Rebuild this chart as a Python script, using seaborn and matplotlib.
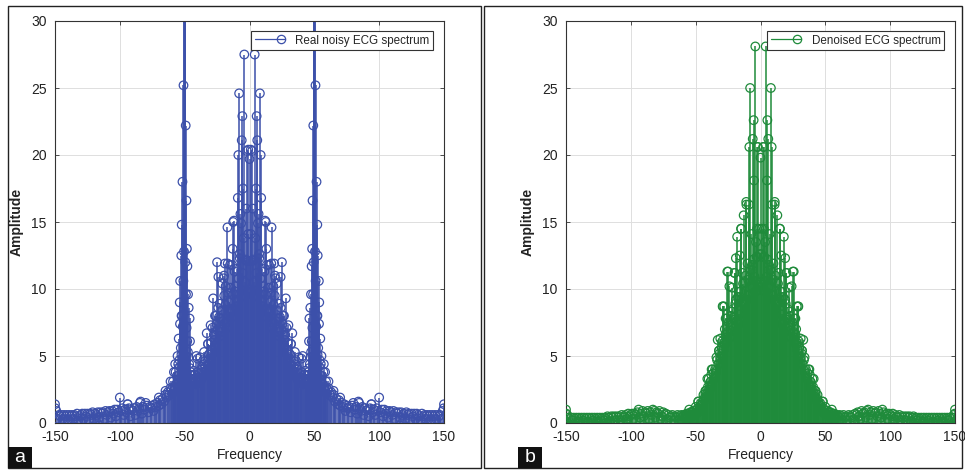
import numpy as np
import pandas as pd
import matplotlib
matplotlib.use("Agg")
import matplotlib.pyplot as plt
from matplotlib.patches import Rectangle
from matplotlib.lines import Line2D
from matplotlib.legend_handler import HandlerBase
import seaborn as sns

# ---------------- data ----------------
freq_half = list(range(0, 151))            # 0 .. 150 Hz, 1 Hz bins (spectrum is symmetric)
freq_mid = [f + 0.5 for f in range(0, 60)]  # in-between bins 0.5 .. 59.5 Hz

noisy_half = [19.7, 14.1, 20.3, 12.2, 27.5, 17.5, 21.1, 15.6, 24.6, 16.8,
              11.5, 10.2, 15.1, 13.0, 8.5, 11.8, 9.0, 14.6, 7.5, 11.9,
              10.8, 10.4, 6.8, 8.9, 10.9, 12.0, 8.0, 6.2, 9.3, 5.5,
              7.3, 4.8, 5.9, 6.7, 4.2, 4.4, 3.6, 4.0, 4.9, 3.2,
              3.8, 5.0, 3.3, 3.9, 2.9, 3.6, 4.1, 4.9, 6.1, 9.6,
              45.0, 10.6, 8.0, 5.6, 4.7, 4.4, 3.5, 3.8, 2.7, 3.1,
              2.5, 2.6, 2.1, 2.3, 1.9, 2.1, 1.6, 1.8, 1.4, 1.7,
              1.3, 1.5, 1.2, 1.4, 0.9, 1.3, 1.1, 1.2, 0.8, 1.3,
              1.5, 1.0, 1.2, 0.7, 1.6, 1.1, 0.9, 1.2, 0.6, 1.1,
              0.9, 1.0, 0.5, 1.1, 1.4, 0.8, 1.0, 0.6, 1.1, 0.9,
              1.9, 0.8, 1.0, 0.5, 1.0, 0.7, 0.9, 0.4, 0.9, 0.8,
              0.6, 0.9, 0.3, 0.8, 0.7, 0.8, 0.4, 0.8, 0.6, 0.7,
              0.3, 0.8, 0.6, 0.7, 0.2, 0.7, 0.5, 0.7, 0.3, 0.7,
              0.6, 0.5, 0.2, 0.7, 0.5, 0.6, 0.3, 0.6, 0.5, 0.6,
              0.2, 0.6, 0.5, 0.6, 0.3, 0.6, 0.5, 0.6, 0.3, 0.9,
              1.4]

noisy_mid = [12.1, 9.8, 16.0, 10.5, 13.8, 11.2, 9.4, 12.3, 10.8, 9.1,
             8.7, 11.3, 9.6, 7.9, 10.1, 8.3, 9.7, 7.1, 8.8, 9.5,
             7.6, 8.4, 6.5, 7.9, 6.9, 7.4, 5.8, 6.6, 5.2, 6.0,
             4.5, 5.1, 4.3, 3.9, 4.6, 3.5, 4.2, 3.3, 3.7, 3.0,
             3.4, 2.9, 3.6, 3.1, 3.3, 3.8, 4.4, 5.3, 7.1, 12.0,
             12.8, 7.2, 5.1, 4.2, 3.6, 3.2, 2.9, 2.6, 2.4, 2.2]

noisy_extra_freq = [1.0, 2.6, 5.5, 6.5, 8.6, 12.6, 13.4, 16.8, 19.6, 26.6, 32.0, 35.0, 40.0,
                    3.4, 7.4, 10.6, 14.6, 18.4, 22.5, 24.1, 28.6, 30.5, 37.5, 43.5,
                    48.6, 50.9, 49.2, 51.7, 48.3, 52.3, 52.6, 47.9, 53.5, 47.4, 53.8, 46.9,
                    52.4, 46.2, 53.6, 45.9, 54.6, 55.5, 57.3, 58.3, 60.9, 64.8, 69.9,
                    84.5, 94.0, 149.8, 49.4, 49.7, 50.3, 50.6]
noisy_extra_amp = [20.4, 12.1, 22.9, 14.9, 20.0, 15.0, 11.8, 11.9, 11.0, 8.0, 5.9, 5.3, 4.8,
                   9.5, 12.6, 9.8, 8.2, 10.2, 7.8, 8.6, 7.1, 5.2, 3.2, 3.1,
                   16.6, 25.2, 22.2, 18.0, 13.0, 14.8, 12.5, 11.7, 10.6, 9.6, 9.0, 8.6,
                   8.0, 7.8, 7.4, 6.1, 6.3, 5.0, 4.4, 3.8, 3.1, 2.4, 1.9,
                   1.5, 1.4, 1.1, 38.0, 42.0, 42.0, 38.0]

den_half = [19.8, 14.5, 20.6, 12.4, 28.1, 18.1, 21.2, 14.1, 25.0, 16.3,
            11.9, 16.5, 10.5, 15.5, 11.2, 14.5, 12.5, 9.8, 13.9, 12.3,
            11.2, 8.5, 10.1, 6.9, 10.2, 11.3, 7.8, 6.6, 8.7, 8.7,
            5.6, 6.3, 5.4, 6.2, 4.9, 4.0, 3.3, 4.0, 3.6, 2.8,
            3.3, 2.2, 2.4, 1.9, 2.1, 1.4, 1.5, 1.0, 1.6, 0.8,
            1.2, 0.7, 0.9, 0.5, 0.8, 1.0, 0.6, 0.7, 0.4, 0.6,
            0.5, 0.6, 0.3, 0.5, 0.6, 0.4, 0.5, 0.2, 0.6, 0.5,
            0.4, 0.6, 0.2, 0.7, 0.6, 0.8, 0.5, 0.3, 0.9, 0.7,
            0.8, 0.4, 0.9, 1.0, 0.6, 0.8, 0.3, 0.9, 0.7, 0.8,
            0.5, 0.9, 0.7, 0.4, 1.0, 0.8, 0.6, 0.7, 0.3, 0.7,
            0.6, 0.5, 0.7, 0.3, 0.6, 0.5, 0.4, 0.6, 0.2, 0.5,
            0.4, 0.5, 0.2, 0.5, 0.4, 0.5, 0.1, 0.4, 0.5, 0.3,
            0.4, 0.2, 0.4, 0.3, 0.4, 0.1, 0.4, 0.3, 0.4, 0.2,
            0.4, 0.3, 0.4, 0.1, 0.4, 0.3, 0.4, 0.2, 0.4, 0.3,
            0.4, 0.1, 0.4, 0.3, 0.4, 0.2, 0.4, 0.3, 0.4, 0.6,
            1.0]

den_mid = [12.6, 10.3, 9.9, 13.5, 10.9, 12.2, 10.1, 11.4, 9.6, 10.7,
           9.2, 11.0, 8.8, 10.4, 9.0, 9.8, 8.1, 9.4, 7.6, 8.9,
           7.9, 7.2, 8.3, 6.4, 7.5, 6.8, 6.0, 7.0, 5.5, 6.1,
           4.8, 5.2, 4.4, 4.7, 3.9, 3.4, 3.7, 2.9, 3.1, 2.5,
           2.7, 2.0, 2.2, 1.7, 1.6, 1.2, 1.3, 0.9, 1.1, 0.7,
           0.9, 0.6, 0.8, 0.5, 0.6, 0.7, 0.4, 0.5, 0.3, 0.5]

den_extra_freq = [2.5, 5.3, 8.6, 10.9, 14.8, 2.6, 2.4, 20.0, 25.6, 26.9, 29.2, 32.0, 37.7,
                  41.0, 42.5, 48.0, 3.4, 6.6, 9.5, 12.4, 16.8, 19.0, 22.6, 27.8, 34.5,
                  38.8, 44.5, 149.8]
den_extra_amp = [20.6, 22.6, 20.6, 16.3, 14.5, 14.5, 12.4, 11.2, 11.3, 7.8, 8.7, 5.4, 4.0,
                 3.3, 2.4, 1.6, 10.6, 11.8, 9.5, 8.9, 7.4, 9.2, 8.0, 6.0, 3.8,
                 2.6, 1.4, 0.7]

x_ticks = [-150, -100, -50, 0, 50, 100, 150]
y_ticks = [0, 5, 10, 15, 20, 25, 30]
legend_labels = ["Real noisy ECG spectrum", "Denoised ECG spectrum"]
panel_letters = ["a", "b"]
colors = ["#3c50aa", "#1f8b3b"]


def build_frame(half, mid, ex_f, ex_a):
    pos_f = freq_half + freq_mid + ex_f
    pos_a = half + mid + ex_a
    f = [-v for v in pos_f if v > 0] + pos_f
    a = [v for fv, v in zip(pos_f, pos_a) if fv > 0] + pos_a
    df = pd.DataFrame({"Frequency": f, "Amplitude": a})
    return df.sort_values("Frequency").reset_index(drop=True)


frames = [build_frame(noisy_half, noisy_mid, noisy_extra_freq, noisy_extra_amp),
          build_frame(den_half, den_mid, den_extra_freq, den_extra_amp)]


class StemLegendHandler(HandlerBase):
    """Legend handle: a line with the circle marker at its right end (MATLAB stem style)."""
    def create_artists(self, legend, orig_handle, xdescent, ydescent, width, height,
                       fontsize, trans):
        col = orig_handle.get_color()
        y = height / 2.0 - ydescent
        line = Line2D([-xdescent, -xdescent + width], [y, y], color=col, linewidth=0.9)
        mk = Line2D([-xdescent + width - 3], [y], color=col, linestyle="none", marker="o",
                    markersize=6, markerfacecolor="none", markeredgecolor=col,
                    markeredgewidth=0.9)
        line.set_transform(trans)
        mk.set_transform(trans)
        return [line, mk]


# ---------------- figure ----------------
sns.set_theme(style="whitegrid")
plt.rcParams["font.family"] = ["Liberation Sans", "DejaVu Sans"]
plt.rcParams["axes.unicode_minus"] = False

W, H = 965, 470
fig = plt.figure(figsize=(W / 100, H / 100), dpi=100)
fig.patch.set_facecolor("white")

axes_px = [(55, 21, 444, 423), (566, 21, 955, 423)]
for i, (x0, y0, x1, y1) in enumerate(axes_px):
    ax = fig.add_axes([x0 / W, 1 - y1 / H, (x1 - x0) / W, (y1 - y0) / H])
    df = frames[i]
    col = colors[i]
    ax.vlines(df["Frequency"], 0, df["Amplitude"], color=col, linewidth=1.1, zorder=2)
    sns.scatterplot(data=df, x="Frequency", y="Amplitude", ax=ax, marker="o", s=38,
                    facecolors="none", edgecolor=col, linewidth=0.9, zorder=3, legend=False)
    ax.set_xlim(-150, 150)
    ax.set_ylim(0, 30)
    ax.set_xticks(x_ticks)
    ax.set_yticks(y_ticks)
    ax.set_facecolor("white")
    ax.grid(True, color="#dedede", linewidth=0.7)
    ax.set_axisbelow(True)
    for sp in ax.spines.values():
        sp.set_color("#333333")
        sp.set_linewidth(0.8)
    ax.tick_params(direction="in", length=3, width=0.6, colors="#333333",
                   labelsize=10, top=True, right=True, bottom=True, left=True,
                   labelcolor="#222222")
    ax.tick_params(axis="x", pad=5)
    ax.tick_params(axis="y", pad=6)
    ax.set_xlabel("Frequency", fontsize=10, color="#222222", labelpad=3)
    ax.set_ylabel("Amplitude", fontsize=10, fontweight="bold", color="#222222", labelpad=5)
    handle = Line2D([0, 1], [0, 0], color=col)
    leg = ax.legend([handle], [legend_labels[i]], loc="upper right",
                    bbox_to_anchor=(0.972, 0.975), borderaxespad=0, fontsize=8.4,
                    frameon=True, fancybox=False, handlelength=2.6, borderpad=0.3,
                    handletextpad=0.9,
                    handler_map={handle: StemLegendHandler()})
    leg.get_frame().set_edgecolor("#333333")
    leg.get_frame().set_linewidth(0.8)
    leg.get_frame().set_alpha(1)

# outer frames and panel letters
def px_rect(x0, y0, x1, y1, **kw):
    return Rectangle((x0 / W, 1 - y1 / H), (x1 - x0) / W, (y1 - y0) / H,
                     transform=fig.transFigure, **kw)

fig.patches.append(px_rect(8, 6, 481, 468, fill=False, edgecolor="#222222", linewidth=1.0))
fig.patches.append(px_rect(484, 6, 962, 468, fill=False, edgecolor="#222222", linewidth=1.0))
for (x0, letter) in [(8, panel_letters[0]), (518, panel_letters[1])]:
    fig.patches.append(px_rect(x0, 447, x0 + 24, 468, facecolor="#111111", edgecolor="none"))
    fig.text((x0 + 12) / W, 1 - 458 / H, letter, color="white", fontsize=14,
             ha="center", va="center")

fig.savefig("out.png", dpi=100, facecolor="white")
